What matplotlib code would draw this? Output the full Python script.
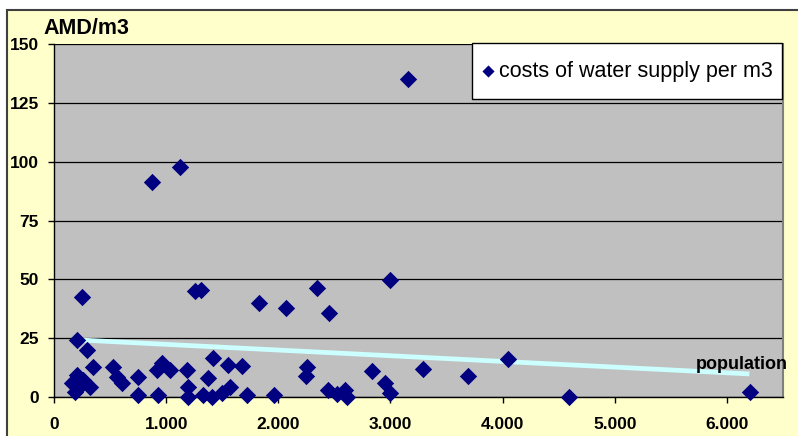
import matplotlib.pyplot as plt
from matplotlib.patches import Rectangle
from matplotlib.ticker import FuncFormatter

plt.rcParams['font.family'] = ['Liberation Sans', 'DejaVu Sans']

# population of the settlement vs. cost of water supply (AMD per m3)
population = [250, 205, 294, 348, 526, 205, 160, 258, 321, 214,
              187, 561, 606, 749, 749, 927, 918, 963, 1034, 1185,
              1194, 1194, 1417, 1373, 1328, 1408, 1551, 1569, 1676, 1720,
              1497, 1961, 2255, 2246, 2442, 2522, 2594, 2611, 2834, 2950,
              2995, 3289, 3690, 4046, 4590, 6203, 873, 1123, 1257, 1310,
              1827, 2068, 2344, 2451, 2995, 3155]
cost_per_m3 = [42.6, 24.3, 20.0, 12.8, 12.8, 9.4, 6.0, 7.2, 4.3, 3.8,
               2.1, 8.5, 6.0, 8.5, 0.9, 0.9, 11.5, 14.5, 11.5, 11.5,
               4.3, 0.0, 16.6, 8.1, 0.9, 0.0, 13.6, 4.3, 13.2, 0.9,
               1.7, 0.9, 12.8, 8.9, 3.0, 1.3, 3.0, 0.0, 11.1, 6.0,
               1.7, 11.9, 8.9, 16.2, 0.0, 2.1, 91.5, 97.9, 45.1, 45.5,
               40.0, 37.9, 46.4, 35.7, 49.8, 135.3]

# linear trend drawn across the population range
trend_x = [200, 6200]
trend_y = [24.3, 9.8]

x_ticks = [0, 1000, 2000, 3000, 4000, 5000, 6000]
y_ticks = [0, 25, 50, 75, 100, 125, 150]

W, H = 798, 436
fig = plt.figure(figsize=(W / 100, H / 100), dpi=100)
fig.patch.set_facecolor('white')

# chart area background with its border
fig.patches.append(Rectangle((7 / W, -0.1), 1.2, 1 - 10 / H + 0.1,
                             transform=fig.transFigure, facecolor='#FFFFCC',
                             edgecolor='#404040', linewidth=1.5, zorder=-5))

ax = fig.add_axes([54 / W, 39 / H, 729 / W, 353 / H])
ax.set_facecolor('#C0C0C0')

ax.scatter(population, cost_per_m3, marker='D', s=78, color='#000080',
           linewidths=0, zorder=3, clip_on=False,
           label='costs of water supply per m3')
ax.plot(trend_x, trend_y, color='#CCFFFF', linewidth=3.4, zorder=2,
        solid_capstyle='butt')
ax.text(5720, 14.0, 'population', fontsize=13, fontweight='bold',
        ha='left', va='center', zorder=4)

ax.set_xlim(0, 6500)
ax.set_ylim(0, 150)
ax.set_xticks(x_ticks)
ax.set_yticks(y_ticks)
ax.xaxis.set_major_formatter(FuncFormatter(lambda v, p: f'{int(v):,}'.replace(',', '.')))
ax.yaxis.grid(True, color='black', linewidth=0.9)
ax.set_axisbelow(True)

ax.tick_params(axis='both', direction='out', length=4, width=1, color='black',
               labelsize=12.5)
ax.tick_params(axis='x', pad=10.5)
ax.tick_params(axis='y', pad=7)
for lbl in ax.get_xticklabels() + ax.get_yticklabels():
    lbl.set_fontweight('bold')

for side in ('left', 'bottom'):
    ax.spines[side].set_color('black')
    ax.spines[side].set_linewidth(1)
ax.spines['top'].set_visible(False)
ax.spines['right'].set_color('#808080')
ax.spines['right'].set_linewidth(1.5)

fig.text(43 / W, 1 - 28 / H, 'AMD/m3', fontsize=15.5, fontweight='bold',
         ha='left', va='center')

leg = ax.legend(loc='upper right', bbox_to_anchor=(782 / W, 1 - 43 / H),
                bbox_transform=fig.transFigure, fontsize=15.5, markerscale=0.7,
                fancybox=False, framealpha=1, edgecolor='black',
                handletextpad=0.15, handlelength=0.7, handleheight=2.3,
                scatteryoffsets=[0.17], borderpad=0.42, borderaxespad=0)
leg.get_frame().set_linewidth(1)
leg.set_zorder(5)

fig.savefig('out.png', dpi=100)
